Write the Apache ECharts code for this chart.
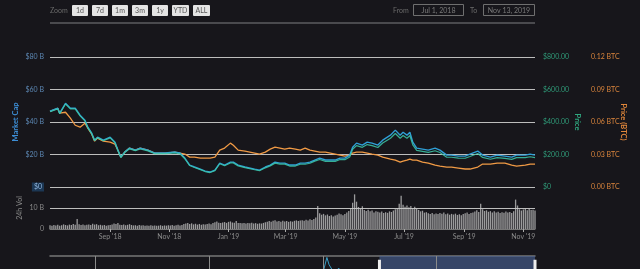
<!DOCTYPE html>
<html><head><meta charset="utf-8">
<script src="https://cdn.jsdelivr.net/npm/echarts@6/dist/echarts.min.js"></script>
<style>html,body{margin:0;padding:0;background:#17161b;}#c{width:640px;height:269px;}</style>
</head><body><div id="c"></div>
<script>
// ---- data ----
const dates = ['2018-07-01','2018-07-03','2018-07-09','2018-07-11','2018-07-13','2018-07-17','2018-07-22','2018-07-27','2018-08-01','2018-08-06','2018-08-09','2018-08-13','2018-08-16','2018-08-19','2018-08-25','2018-09-01','2018-09-06','2018-09-09','2018-09-12','2018-09-16','2018-09-21','2018-09-27','2018-10-02','2018-10-10','2018-10-17','2018-10-28','2018-11-07','2018-11-12','2018-11-17','2018-11-22','2018-11-27','2018-12-03','2018-12-08','2018-12-13','2018-12-18','2018-12-23','2018-12-28','2019-01-03','2019-01-06','2019-01-11','2019-01-18','2019-01-28','2019-02-02','2019-02-08','2019-02-13','2019-02-18','2019-02-23','2019-02-28','2019-03-05','2019-03-11','2019-03-16','2019-03-21','2019-03-26','2019-03-31','2019-04-05','2019-04-11','2019-04-16','2019-04-21','2019-04-26','2019-05-01','2019-05-06','2019-05-09','2019-05-13','2019-05-19','2019-05-24','2019-05-29','2019-06-04','2019-06-09','2019-06-17','2019-06-22','2019-06-27','2019-06-30','2019-07-04','2019-07-07','2019-07-10','2019-07-14','2019-07-20','2019-07-26','2019-08-02','2019-08-07','2019-08-14','2019-08-19','2019-08-26','2019-09-02','2019-09-07','2019-09-15','2019-09-20','2019-09-28','2019-10-05','2019-10-13','2019-10-20','2019-10-25','2019-11-03','2019-11-08','2019-11-13'];
const marketCap = [46.6,47.2,48.5,45.4,46.6,51.5,48.5,48.5,44.2,41.1,36.8,33.1,28.8,30.7,28.8,30.7,27.6,22.7,18.4,21.5,23.9,22.7,23.9,22.7,20.9,20.9,21.5,20.9,17.8,13.5,12.3,11.0,9.8,9.2,10.4,14.7,13.5,15.3,15.3,13.5,12.3,11.0,10.4,12.3,13.5,15.3,14.7,14.7,13.5,13.5,14.7,14.7,15.3,16.6,17.8,16.6,16.6,16.6,17.8,17.8,19.6,24.5,27.0,25.8,27.6,27.0,25.8,28.8,31.9,35.0,31.9,33.7,31.9,33.7,27.6,23.9,23.3,22.7,23.9,22.7,19.6,19.6,19.0,19.0,20.2,22.1,19.6,18.4,19.6,19.0,18.4,19.6,19.6,20.2,19.6];
const priceUsd = [463,469,481,451,463,511,481,481,438,407,364,328,285,304,285,302,272,224,181,212,235,224,234,222,205,205,210,204,174,132,120,107,95,89,101,143,131,148,148,130,119,106,100,118,130,147,141,141,129,129,140,140,146,159,169,158,158,158,169,168,185,232,255,244,261,255,243,271,300,329,300,317,300,317,259,225,219,213,223,212,183,183,178,177,188,206,182,171,181,176,170,181,181,186,181];
const priceBtc = [0.0699,0.0708,0.0727,0.0681,0.0690,0.0690,0.0635,0.0570,0.0552,0.0589,0.0543,0.0488,0.0423,0.0451,0.0423,0.0414,0.0396,0.0340,0.0276,0.0322,0.0359,0.0340,0.0359,0.0340,0.0313,0.0313,0.0322,0.0313,0.0304,0.0276,0.0276,0.0267,0.0267,0.0267,0.0276,0.0340,0.0359,0.0405,0.0386,0.0340,0.0331,0.0313,0.0304,0.0322,0.0350,0.0368,0.0359,0.0350,0.0359,0.0350,0.0340,0.0359,0.0340,0.0331,0.0322,0.0322,0.0313,0.0304,0.0294,0.0285,0.0294,0.0313,0.0322,0.0322,0.0313,0.0304,0.0294,0.0276,0.0258,0.0248,0.0230,0.0239,0.0248,0.0258,0.0248,0.0248,0.0230,0.0221,0.0202,0.0193,0.0184,0.0184,0.0175,0.0166,0.0166,0.0184,0.0212,0.0212,0.0221,0.0221,0.0202,0.0193,0.0202,0.0212,0.0212];
const volStart = '2018-07-01';
const volStepDays = 2;
const volume = [1.8,1.6,1.9,1.7,2.0,1.6,1.8,2.2,1.9,1.7,
2.1,1.9,2.4,2.0,4.8,2.3,1.9,2.1,1.8,2.0,
2.2,1.9,2.5,2.1,2.3,1.8,2.0,1.7,1.9,1.6,
1.8,1.9,2.2,2.6,2.4,2.8,2.0,1.9,2.1,1.8,
2.0,2.3,1.9,1.7,1.8,1.6,1.9,1.7,1.8,1.6,
1.7,1.5,1.8,1.6,1.7,1.5,1.6,1.8,1.5,1.7,
1.6,1.8,1.7,1.9,1.6,1.8,2.0,1.7,1.9,2.4,
2.6,2.9,2.4,2.7,2.2,2.5,2.1,2.4,2.0,2.3,
2.1,2.4,2.6,2.3,2.8,3.2,3.6,3.0,2.8,3.1,
3.3,2.9,3.4,3.6,3.1,3.0,3.8,2.8,2.9,2.7,
2.8,2.6,2.9,2.7,3.0,2.6,2.8,2.5,2.7,2.6,
2.9,3.2,3.5,3.8,3.4,3.9,4.2,3.6,3.8,3.5,
3.9,3.6,3.8,3.4,3.7,3.5,3.9,4.1,3.8,4.0,
4.2,3.9,4.4,4.1,4.6,4.3,4.8,5.5,11.0,7.5,
6.8,7.2,6.5,6.9,6.2,6.6,5.9,6.4,6.8,7.4,
7.0,6.6,7.1,7.8,8.6,9.8,12.5,16.5,13.0,10.5,
9.6,10.8,9.0,8.6,9.2,8.4,8.8,7.9,8.5,8.2,
7.8,8.3,7.6,8.0,7.7,8.4,8.1,8.8,9.4,9.9,
12.0,15.8,11.5,10.6,11.2,10.4,10.9,9.8,10.6,9.5,
9.1,8.4,8.7,7.8,8.0,7.5,7.2,7.6,7.0,7.4,
7.1,7.6,7.3,7.9,7.0,7.4,6.8,7.2,6.9,7.3,
6.7,7.0,6.6,7.1,7.5,7.8,7.2,7.6,7.9,8.3,
8.9,8.1,12.0,9.4,8.6,8.9,8.2,8.5,7.9,8.4,
7.8,8.2,7.6,8.0,7.7,8.3,7.9,8.1,7.6,8.4,
14.0,11.2,9.4,8.8,9.3,9.7,8.9,9.5,9.0,9.2,8.8];
const xTickDates = ['2018-09-01','2018-11-01','2019-01-01','2019-03-01','2019-05-01','2019-07-01','2019-09-01','2019-11-01'];
const navDates = ['2015-08-07','2015-10-01','2016-01-01','2016-03-15','2016-06-15','2016-09-01','2017-01-01','2017-03-15','2017-05-01','2017-06-12','2017-07-15','2017-09-01','2017-11-01','2017-12-01','2017-12-20','2018-01-01','2018-01-13','2018-01-20','2018-02-06','2018-02-20','2018-03-15','2018-04-06','2018-05-06','2018-06-01'];
const navCap = [0.2,0.05,0.07,1.0,1.5,1.0,0.7,2.5,7,37,18,36,29,45,88,84,135,110,80,98,60,38,80,58];
const navYearLines = ['2016-01-01','2017-01-01','2018-01-01','2019-01-01'];
const navStart = '2015-08-07';
const rangeFrom = '2018-07-01', rangeTo = '2019-11-13';
const zoomButtons = ['1d','7d','1m','3m','1y','YTD','ALL'];

// ---- build ----
const DAY = 86400000;
const ts = s => new Date(s + 'T00:00:00Z').getTime();
const t0 = ts(volStart);
const volData = volume.map((v, i) => [t0 + i * volStepDays * DAY, v]);
const mcData = dates.map((d, i) => [ts(d), marketCap[i]]);
const prData = dates.map((d, i) => [ts(d), priceUsd[i]]);
const btData = dates.map((d, i) => [ts(d), priceBtc[i]]);
const navData = navDates.map((d, i) => [ts(d), navCap[i]]).concat(mcData);
const MONTHS = ['Jan','Feb','Mar','Apr','May','Jun','Jul','Aug','Sep','Oct','Nov','Dec'];
const FONT = 'Lato';
const tickVals = xTickDates.map(ts);

const graphics = [];
graphics.push({type:'text', x:50, y:10.5, style:{text:'Zoom', fill:'#6a6a6a', font:'7px ' + FONT, verticalAlign:'middle'}});
let bx = 72;
zoomButtons.forEach(b => {
  const w = b.length > 2 ? 17 : 16;
  graphics.push({type:'rect', shape:{x:bx, y:5, width:w, height:11, r:1}, style:{fill:'#e4e4e4'}});
  graphics.push({type:'text', x:bx + w/2, y:10.5, style:{text:b, fill:'#555', font:'7px ' + FONT, align:'center', verticalAlign:'middle'}});
  bx += w + 4;
});
graphics.push({type:'text', x:393, y:10.5, style:{text:'From', fill:'#6a6a6a', font:'7px ' + FONT, verticalAlign:'middle'}});
graphics.push({type:'rect', shape:{x:413.5, y:4.5, width:50, height:11}, style:{fill:'none', stroke:'#6f6f6f', lineWidth:1}});
graphics.push({type:'text', x:438.5, y:10.5, style:{text:'Jul 1, 2018', fill:'#7a7a7a', font:'7px ' + FONT, align:'center', verticalAlign:'middle'}});
graphics.push({type:'text', x:470, y:10.5, style:{text:'To', fill:'#6a6a6a', font:'7px ' + FONT, verticalAlign:'middle'}});
graphics.push({type:'rect', shape:{x:483.5, y:4.5, width:51, height:11}, style:{fill:'none', stroke:'#6f6f6f', lineWidth:1}});
graphics.push({type:'text', x:509, y:10.5, style:{text:'Nov 13, 2019', fill:'#7a7a7a', font:'7px ' + FONT, align:'center', verticalAlign:'middle'}});
graphics.push({type:'line', shape:{x1:50, y1:23, x2:535, y2:23}, style:{stroke:'#4a4a4e', lineWidth:2}});

const chart = echarts.init(document.getElementById('c'), null, {renderer:'canvas'});
chart.setOption({
  backgroundColor:'#17161b',
  animation:false,
  textStyle:{fontFamily:FONT},
  graphic:graphics,
  grid:[
    {left:50, width:485, top:57, height:130},
    {left:50, width:485, top:187, height:42},
    {left:50, width:485, top:256, bottom:0}
  ],
  xAxis:[
    {type:'value', gridIndex:0, min:ts(rangeFrom), max:ts(rangeTo), show:false},
    {type:'value', gridIndex:1, min:ts(rangeFrom), max:ts(rangeTo),
      axisLine:{show:true, lineStyle:{color:'#777', width:1}},
      axisTick:{show:true, length:3, lineStyle:{color:'#aaa'}, customValues:tickVals},
      splitLine:{show:false},
      axisLabel:{color:'#8a8a8a', fontSize:7, margin:4, customValues:tickVals,
        formatter:v => { const d = new Date(v); return MONTHS[d.getUTCMonth()] + " '" + String(d.getUTCFullYear()).slice(2); }}},
    {type:'value', gridIndex:2, min:ts(navStart), max:ts(rangeTo), position:'top',
      axisLine:{show:true, lineStyle:{color:'#777', width:1.5}}, axisTick:{show:false}, axisLabel:{show:false}, splitLine:{show:false}}
  ],
  yAxis:[
    {type:'value', gridIndex:0, min:0, max:80, interval:20, position:'left',
      name:'Market Cap', nameLocation:'middle', nameGap:30, nameRotate:90, nameMoveOverlap:false,
      nameTextStyle:{color:'#3d8ed6', fontSize:7.5, fontWeight:'bold'},
      axisLine:{show:false}, axisTick:{show:false},
      splitLine:{lineStyle:{color:'#bdbdbd', width:1}},
      axisLabel:{color:'#5c87b3', fontSize:7, margin:6,
        formatter:v => v === 0 ? '{hl|$0}' : '$' + v + ' B',
        rich:{hl:{backgroundColor:'#1c3754', color:'#8fb4dc', fontSize:7, padding:[1,2]}}}},
    {type:'value', gridIndex:0, min:0, max:800, interval:200, position:'right',
      name:'Price', nameLocation:'middle', nameGap:38, nameRotate:-90, nameMoveOverlap:false,
      nameTextStyle:{color:'#2fa77f', fontSize:7.5, fontWeight:'bold'},
      axisLine:{show:false}, axisTick:{show:false}, splitLine:{show:false},
      axisLabel:{color:'#2f9a78', fontSize:7, margin:8, formatter:v => v === 0 ? '$0' : '$' + v.toFixed(2)}},
    {type:'value', gridIndex:0, min:0, max:0.12, interval:0.03, position:'right', offset:48,
      name:'Price (BTC)', nameLocation:'middle', nameGap:36, nameRotate:-90, nameMoveOverlap:false,
      nameTextStyle:{color:'#e0863a', fontSize:7.5, fontWeight:'bold'},
      axisLine:{show:false}, axisTick:{show:false}, splitLine:{show:false},
      axisLabel:{color:'#d9843c', fontSize:7, margin:8, formatter:v => v.toFixed(2) + ' BTC'}},
    {type:'value', gridIndex:1, min:0, max:20, interval:10, position:'left',
      name:'24h Vol', nameLocation:'middle', nameGap:27, nameRotate:90, nameMoveOverlap:false,
      nameTextStyle:{color:'#8a8a8a', fontSize:7},
      axisLine:{show:false}, axisTick:{show:false},
      splitLine:{lineStyle:{color:'#bdbdbd', width:1}},
      axisLabel:{color:'#8a8a8a', fontSize:7, margin:6, showMaxLabel:false, formatter:v => v === 0 ? '0' : v + ' B'}},
    {type:'value', gridIndex:2, min:95, max:140, show:false}
  ],
  series:[
    {type:'bar', xAxisIndex:1, yAxisIndex:3, data:volData, barWidth:1.3,
      itemStyle:{color:'rgba(200,200,200,0.75)'}},
    {type:'line', xAxisIndex:0, yAxisIndex:2, data:btData, showSymbol:false,
      lineStyle:{color:'#f09a45', width:1.3}},
    {type:'line', xAxisIndex:0, yAxisIndex:0, data:mcData, showSymbol:false,
      lineStyle:{color:'#2f9fd6', width:1.4}},
    {type:'line', xAxisIndex:0, yAxisIndex:1, data:prData, showSymbol:false,
      lineStyle:{color:'#3cc9a9', width:1.2, opacity:0.85}},
    {type:'line', xAxisIndex:2, yAxisIndex:4, data:navData, showSymbol:false, clip:true,
      lineStyle:{color:'#3a9fc8', width:1},
      markArea:{silent:true, itemStyle:{color:'rgba(70,95,145,0.65)'}, data:[[{xAxis:ts(rangeFrom)},{xAxis:ts(rangeTo)}]]},
      markLine:{silent:true, symbol:'none', label:{show:false}, lineStyle:{color:'#8a8a8a', width:1, type:'solid'},
        data:navYearLines.map(d => ({xAxis:ts(d)}))},
      markPoint:{silent:true, symbol:'rect', symbolSize:[3,11], itemStyle:{color:'#eeeeee'}, label:{show:false},
        data:[{coord:[ts(rangeFrom), 108]}, {coord:[ts(rangeTo), 108]}]}}
  ]
});
</script></body></html>
